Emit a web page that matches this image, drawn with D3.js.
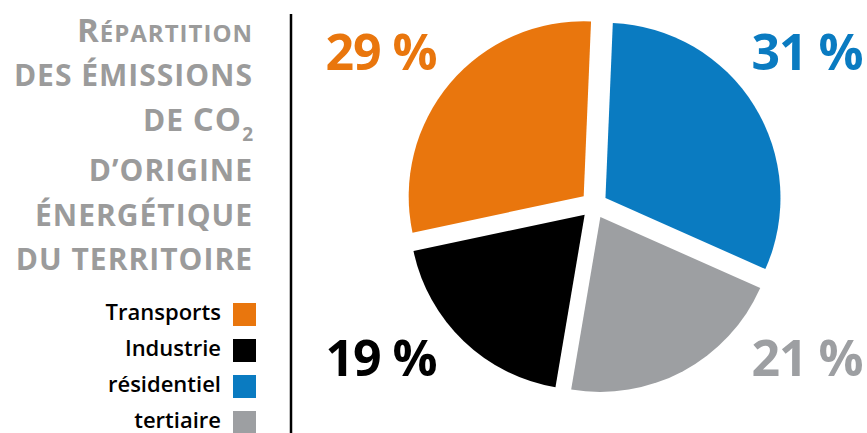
<!DOCTYPE html>
<html>
<head>
<meta charset="utf-8">
<script src="https://cdn.jsdelivr.net/npm/d3@7"></script>
<style>
  body { margin: 0; background: #fff; }
  svg { display: block; font-family: "Open Sans", sans-serif; }
</style>
</head>
<body>
<div class="container"></div>
<script>
// data
const categories = ["Transports", "Industrie", "résidentiel", "tertiaire"]
const values = [29, 19, 31, 21]
const colours = ["#e9760d", "#000000", "#0a7bc1", "#9d9fa2"]
// clockwise order of the slices, starting at 12 o'clock
const pieOrder = ["résidentiel", "tertiaire", "Industrie", "Transports"]
const titleLines = ["Répartition", "des émissions", "de CO₂", "d’origine", "énergétique", "du territoire"]

const w = 867
const h = 433
const cx = 594
const cy = 205
const radius = 175
const explode = 13.5

const svg = d3.select(".container")
  .append("svg")
  .attr("width", w)
  .attr("height", h)

const colour = d3.scaleOrdinal().domain(categories).range(colours)
const valueOf = {}
categories.forEach((c, i) => valueOf[c] = values[i])

// pie
const pie = d3.pie()
  .sort(null)
  .value(d => valueOf[d])
  .startAngle(0.042)
  .endAngle(0.042 + 2 * Math.PI)

const arc = d3.arc().innerRadius(0).outerRadius(radius)
const arcs = pie(pieOrder)

const g = svg.append("g").attr("transform", "translate(" + cx + "," + cy + ")")

g.selectAll("path")
  .data(arcs)
  .enter()
  .append("path")
  .attr("d", arc)
  .attr("fill", d => colour(d.data))
  .attr("transform", d => {
    const a = (d.startAngle + d.endAngle) / 2
    return "translate(" + (Math.sin(a) * explode) + "," + (-Math.cos(a) * explode) + ")"
  })

// percentage labels in the corners
g.selectAll("text.pct")
  .data(arcs)
  .enter()
  .append("text")
  .attr("class", "pct")
  .attr("x", d => Math.sign(Math.sin((d.startAngle + d.endAngle) / 2)) * 213)
  .attr("y", d => Math.sign(-Math.cos((d.startAngle + d.endAngle) / 2)) * 153 + 18)
  .attr("text-anchor", "middle")
  .style("font-size", "50px")
  .style("font-weight", 700)
  .style("letter-spacing", "-1px")
  .attr("fill", d => colour(d.data))
  .text(d => valueOf[d.data] + " %")

// divider
svg.append("line")
  .attr("x1", 291).attr("x2", 291)
  .attr("y1", 14).attr("y2", h)
  .attr("stroke", "#000")
  .attr("stroke-width", 2.5)

// title in small caps (first line smaller small caps)
const titleBase = [42, 86, 131, 181, 226, 270]
titleLines.forEach((line, i) => {
  const t = svg.append("text")
    .attr("x", 253)
    .attr("y", titleBase[i])
    .attr("text-anchor", "end")
    .attr("fill", "#9b9b9b")
    .style("font-weight", 700)
    .style("letter-spacing", "1px")
  const smallSize = i === 0 ? "24px" : "30px"
  let run = ""
  let big = null
  const flush = () => {
    if (run) t.append("tspan").style("font-size", big ? "33px" : smallSize).text(run.toUpperCase())
    run = ""
  }
  for (const ch of line) {
    if (ch === "₂") {
      flush()
      t.append("tspan").style("font-size", "19px").style("letter-spacing", "0px").attr("dy", 10).text("2")
      continue
    }
    const isBig = ch !== ch.toLowerCase()
    if (big !== null && isBig !== big) flush()
    big = isBig
    run += ch
  }
  flush()
})

// legend
const legend = svg.append("g")
legend.selectAll("rect")
  .data(categories)
  .enter()
  .append("rect")
  .attr("x", 233)
  .attr("y", (d, i) => 303 + i * 36)
  .attr("width", 23)
  .attr("height", 23)
  .attr("fill", d => colour(d))

legend.selectAll("text")
  .data(categories)
  .enter()
  .append("text")
  .attr("x", 221)
  .attr("y", (d, i) => 302 + i * 36 + 18)
  .attr("text-anchor", "end")
  .style("font-size", "22px")
  .style("font-weight", 600)
  .attr("fill", "#000")
  .text(d => d)
</script>
</body>
</html>
